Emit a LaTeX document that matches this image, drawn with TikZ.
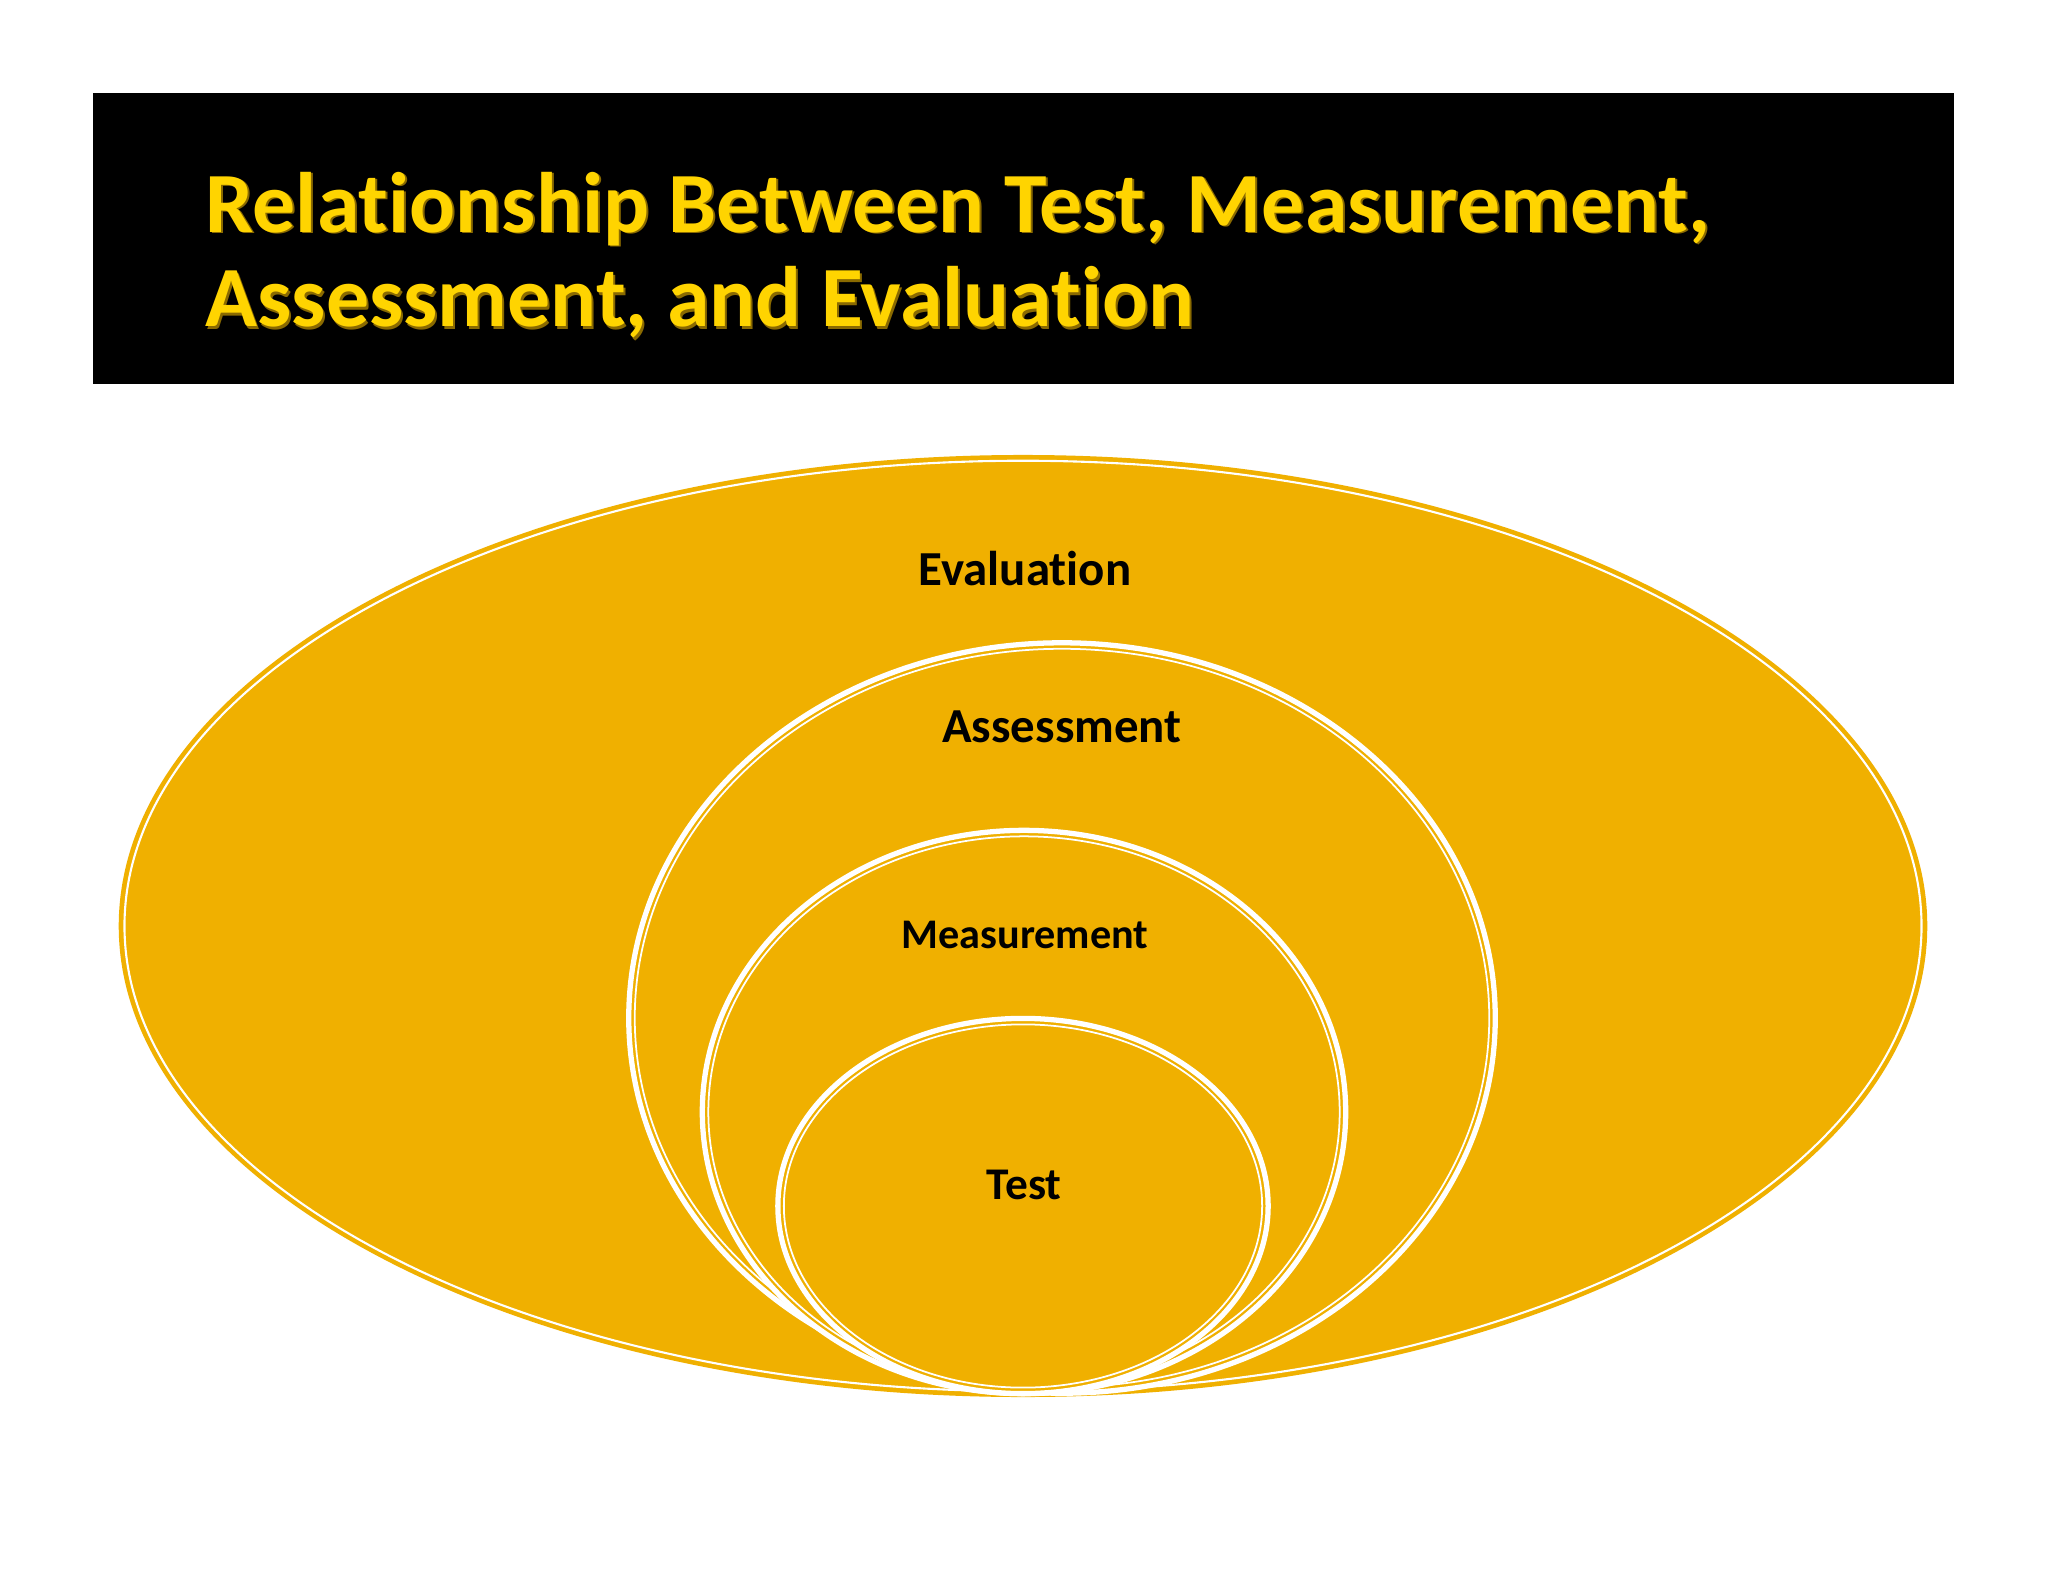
\documentclass[tikz,border=0pt]{standalone}
\usepackage{fontspec}
\setmainfont{Carlito}[Ligatures=NoCommon]
\usetikzlibrary{shapes.geometric}
\definecolor{gold}{HTML}{F0B000}
\definecolor{titleyellow}{HTML}{FFD400}
\definecolor{shadowc}{HTML}{8A6A00}
\tikzset{
  px/.style={x=0.01cm,y=-0.01cm},
  outerell/.style={ellipse, fill=gold, draw=gold, line width=1pt, inner sep=0pt},
  innerell/.style={ellipse, fill=gold, draw=white, line width=1.5pt, inner sep=0pt},
  thinell/.style={ellipse, draw=white, line width=0.5pt, inner sep=0pt},
  label/.style={text=black, anchor=base, inner sep=0pt},
  titletext/.style={anchor=base west, inner sep=0pt, text=titleyellow, font=\bfseries\fontsize{24.4}{29}\selectfont},
  titleshadow/.style={titletext, text=shadowc},
}
\begin{document}
\begin{tikzpicture}[px]
\useasboundingbox (0,0) rectangle (2048,1582);
\fill[white] (0,0) rectangle (2048,1582);
% banner
\fill[black] (93,93) rectangle (1954,384);
\node[titleshadow] (ts1) at (207,234) {Relationship Between Test, Measurement,};
\node[titleshadow] (ts2) at (207,329) {Assessment, and Evaluation};
\node[titletext] (t1) at (205,232) {Relationship Between Test, Measurement,};
\node[titletext] (t2) at (205,327) {Assessment, and Evaluation};
% evaluation
\node[outerell, minimum width=18.04cm, minimum height=9.38cm] (eval) at (1023,926) {};
\node[thinell, line width=0.6pt, minimum width=17.96cm, minimum height=9.30cm] (evalin) at (1023,926) {};
% assessment
\node[innerell, minimum width=8.66cm, minimum height=7.50cm] (ass) at (1062,1018) {};
\node[thinell, minimum width=8.54cm, minimum height=7.38cm] (assin) at (1062,1018) {};
% measurement
\node[innerell, minimum width=6.43cm, minimum height=5.63cm] (meas) at (1024,1112) {};
\node[thinell, minimum width=6.31cm, minimum height=5.51cm] (measin) at (1024,1112) {};
% test
\node[innerell, minimum width=4.90cm, minimum height=3.75cm] (test) at (1023,1206) {};
\node[thinell, minimum width=4.78cm, minimum height=3.63cm] (testin) at (1023,1206) {};
% labels
\node[label, font=\bfseries\fontsize{13.9}{16}\selectfont] (level) at (1025,585) {Evaluation};
\node[label, font=\bfseries\fontsize{13.9}{16}\selectfont] (lass) at (1062,742) {Assessment};
\node[label, font=\bfseries\fontsize{12}{14}\selectfont] (lmeas) at (1025,948) {Measurement};
\node[label, font=\bfseries\fontsize{12.9}{15}\selectfont] (ltest) at (1024,1199) {Test};
\end{tikzpicture}
\end{document}
